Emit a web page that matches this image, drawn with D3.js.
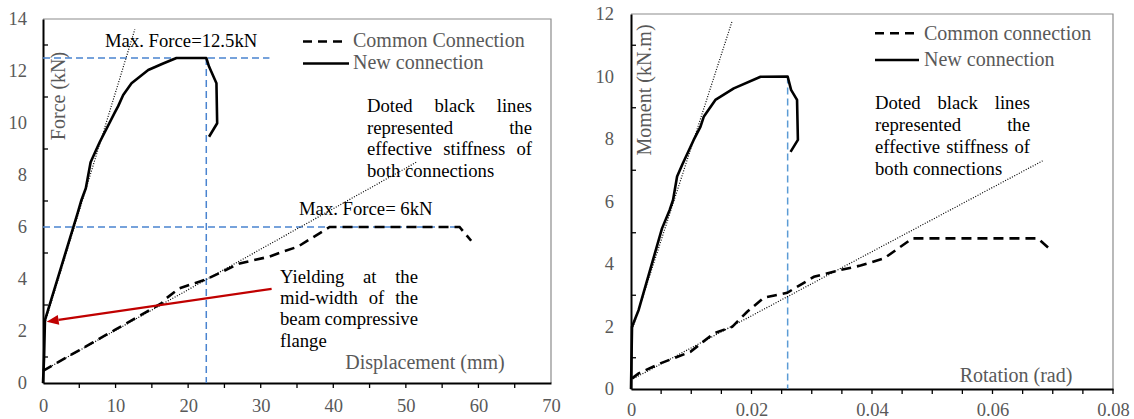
<!DOCTYPE html>
<html>
<head>
<meta charset="utf-8">
<script src="https://cdn.jsdelivr.net/npm/d3@7"></script>
<style>
  html, body { margin: 0; padding: 0; background: #fff; }
  svg { display: block; }
  text { font-family: "Liberation Serif", "Times New Roman", serif; }
</style>
</head>
<body>
<svg id="chart" width="1134" height="419"></svg>
<script>
// ---- Force vs displacement ----
const dispTicks = [0, 10, 20, 30, 40, 50, 60, 70];
const forceTicks = [0, 2, 4, 6, 8, 10, 12, 14];

const dispNew  = [0, 0.15, 0.27, 4.77, 5.3, 5.9, 6.56, 7.38, 7.84, 9.9, 10.36, 11.05, 12.2, 14.5, 16.55, 18.39, 22.5, 22.88, 23.9, 24.0, 22.88];
const forceNew = [0, 1.0, 2.42, 6.53, 7.04, 7.49, 8.49, 9.0, 9.28, 10.41, 10.65, 11.08, 11.53, 12.04, 12.29, 12.5, 12.5, 12.17, 11.53, 9.99, 9.47];

const dispCommon  = [0, 9.9, 14.26, 16.3, 17.0, 18.8, 22.5, 27.1, 31.2, 33.05, 35.1, 39.5, 57.4, 59.0];
const forceCommon = [0.47, 2.04, 2.74, 3.06, 3.26, 3.64, 3.99, 4.6, 4.86, 5.05, 5.24, 6.0, 6.0, 5.47];

// effective stiffness lines (start/end)
const dispStiffNew = [0.25, 12.65];
const forceStiffNew = [2.3, 13.6];
const dispStiffCommon = [0, 51.5];
const forceStiffCommon = [0.47, 8.5];

const maxForceNew = 12.5, maxDispNew = 22.5, maxForceLineEnd = 31.2;
const maxForceCommon = 6, maxForceCommonEnd = 57.4;

// ---- Moment vs rotation ----
const rotTicks = [0, 0.02, 0.04, 0.06, 0.08];
const momentTicks = [0, 2, 4, 6, 8, 10, 12];

const rotNew    = [0, 0.00017, 0.00127, 0.00515, 0.00642, 0.00698, 0.00765, 0.00848, 0.0104, 0.01152, 0.01207, 0.014, 0.01706, 0.0215, 0.026, 0.02657, 0.02756, 0.0277, 0.02648];
const momentNew = [0, 1.99, 2.53, 5.14, 5.73, 6.05, 6.8, 7.17, 7.97, 8.39, 8.71, 9.25, 9.62, 9.99, 10, 9.57, 9.25, 7.97, 7.59];

const rotCommon    = [0.00017, 0.00127, 0.00487, 0.00986, 0.01373, 0.01679, 0.01928, 0.02205, 0.02593, 0.03036, 0.0348, 0.0381, 0.042, 0.04672, 0.0675, 0.0694];
const momentCommon = [0.34, 0.5, 0.82, 1.19, 1.78, 1.99, 2.47, 2.92, 3.08, 3.59, 3.81, 3.95, 4.18, 4.82, 4.82, 4.5];

const rotStiffNew = [0.0002, 0.0168];
const momentStiffNew = [1.9, 11.78];
const rotStiffCommon = [0, 0.0683];
const momentStiffCommon = [0.29, 7.3];

const maxMomentNew = 10, maxRotNew = 0.026;

const noteLines = ["Doted black lines", "represented the", "effective stiffness of", "both connections"];
const yieldLines = ["Yielding at the", "mid-width of the", "beam compressive", "flange"];

const svg = d3.select("#chart");
const GRAY = "#595959";

function zip(xs, ys) { return xs.map((x, i) => [x, ys[i]]); }

// Text spread across a fixed width, last line left-aligned
function justified(g, lines, x0, width, y0, lineH, size) {
  lines.forEach((line, li) => {
    const words = line.split(" ");
    const y = y0 + li * lineH;
    if (li === lines.length - 1 || words.length === 1) {
      g.append("text").attr("font-size", size).attr("fill", "#000")
        .attr("x", x0).attr("y", y).text(line);
      return;
    }
    const widths = words.map(w => {
      const tmp = g.append("text").attr("font-size", size).text(w);
      const wd = tmp.node().getComputedTextLength();
      tmp.remove();
      return wd;
    });
    const gap = (width - d3.sum(widths)) / (words.length - 1);
    let cx = x0;
    words.forEach((w, i) => {
      g.append("text").attr("font-size", size).attr("fill", "#000")
        .attr("x", cx).attr("y", y).text(w);
      cx += widths[i] + gap;
    });
  });
}

function drawPanel(cfg) {
  const { x, y } = cfg;
  const g = svg.append("g");
  const [x0, x1] = x.range();
  const [yb, yt] = y.range();

  // plot border (top/right)
  g.append("path")
    .attr("d", `M${x0},${yt}H${x1}V${yb}`)
    .attr("fill", "none").attr("stroke", "#8c8c8c").attr("stroke-width", 1.2);

  // tick marks: every step on x (outside), odd steps on y (inside)
  g.selectAll(".xm").data(cfg.xMinor).join("line")
    .attr("x1", d => x(d)).attr("x2", d => x(d))
    .attr("y1", yb).attr("y2", yb + 5)
    .attr("stroke", "#000").attr("stroke-width", 1.3);
  g.selectAll(".ym").data(cfg.yMinor).join("line")
    .attr("x1", x0).attr("x2", x0 + 5)
    .attr("y1", d => y(d)).attr("y2", d => y(d))
    .attr("stroke", "#000").attr("stroke-width", 1.3);

  // axes
  const xa = g.append("g").attr("transform", `translate(0,${yb})`)
    .call(d3.axisBottom(x).tickValues(cfg.xTicks).tickSize(0).tickPadding(cfg.xPad).tickFormat(cfg.xFormat));
  xa.select(".domain").attr("stroke", "#000").attr("stroke-width", 2);
  xa.selectAll("text").attr("font-size", 18.5).attr("fill", GRAY)
    .attr("font-family", '"Liberation Serif", "Times New Roman", serif');

  const ya = g.append("g").attr("transform", `translate(${x0},0)`)
    .call(d3.axisLeft(y).tickValues(cfg.yTicks).tickSize(0).tickPadding(cfg.yPad));
  ya.select(".domain").attr("stroke", "#000").attr("stroke-width", 2);
  ya.selectAll("text").attr("font-size", 18.5).attr("fill", GRAY)
    .attr("font-family", '"Liberation Serif", "Times New Roman", serif');

  // axis titles
  g.append("text")
    .attr("transform", `translate(${cfg.yTitlePos[0]},${cfg.yTitlePos[1]}) rotate(-90)`)
    .attr("text-anchor", "middle").attr("font-size", 20).attr("fill", GRAY)
    .text(cfg.yTitle);
  g.append("text")
    .attr("x", cfg.xTitlePos[0]).attr("y", cfg.xTitlePos[1])
    .attr("text-anchor", "middle").attr("font-size", 20).attr("fill", GRAY)
    .text(cfg.xTitle);

  return g;
}

const line = (x, y) => d3.line().x(d => x(d[0])).y(d => y(d[1]));

// ================= Left panel =================
{
  const x = d3.scaleLinear().domain([0, 70]).range([43, 551]);
  const y = d3.scaleLinear().domain([0, 14]).range([383, 19]);
  const g = drawPanel({
    x, y,
    xTicks: dispTicks, yTicks: forceTicks,
    xMinor: d3.range(5, 70, 5), yMinor: d3.range(1, 14, 2),
    xFormat: d3.format("d"), xPad: 16, yPad: 16,
    yTitle: "Force (kN)", yTitlePos: [65, 96],
    xTitle: "Displacement (mm)", xTitlePos: [425, 369]
  });
  const L = line(x, y);

  // max-force guides
  const blue = "#4a84d0";
  g.append("path").attr("d", L([[0, maxForceNew], [maxForceLineEnd, maxForceNew]]))
    .attr("stroke", blue).attr("stroke-width", 1.5).attr("stroke-dasharray", "7,4").attr("fill", "none");
  g.append("path").attr("d", L([[maxDispNew, maxForceNew], [maxDispNew, 0]]))
    .attr("stroke", blue).attr("stroke-width", 1.5).attr("stroke-dasharray", "7,4").attr("fill", "none");
  g.append("path").attr("d", L([[0, maxForceCommon], [maxForceCommonEnd, maxForceCommon]]))
    .attr("stroke", blue).attr("stroke-width", 1.5).attr("stroke-dasharray", "7,4").attr("fill", "none");

  // effective stiffness
  [[dispStiffNew, forceStiffNew], [dispStiffCommon, forceStiffCommon]].forEach(([a, b]) => {
    g.append("path").attr("d", L(zip(a, b)))
      .attr("stroke", "#000").attr("stroke-width", 1.2).attr("stroke-dasharray", "1,1.6").attr("fill", "none");
  });

  // series
  g.append("path").attr("d", L(zip(dispCommon, forceCommon)))
    .attr("stroke", "#000").attr("stroke-width", 2.6).attr("stroke-dasharray", "10,6").attr("fill", "none");
  g.append("path").attr("d", L(zip(dispNew, forceNew)))
    .attr("stroke", "#000").attr("stroke-width", 2.6).attr("stroke-linejoin", "round").attr("fill", "none");

  // red arrow
  const ax0 = x(31.5), ay0 = y(3.62), ax1 = x(0.5), ay1 = y(2.36);
  const ang = Math.atan2(ay1 - ay0, ax1 - ax0);
  const hl = 12, hw = 5;
  const bx = ax1 - hl * Math.cos(ang), by = ay1 - hl * Math.sin(ang);
  g.append("line").attr("x1", ax0).attr("y1", ay0).attr("x2", bx).attr("y2", by)
    .attr("stroke", "#c00000").attr("stroke-width", 2.2);
  g.append("path")
    .attr("d", `M${ax1},${ay1}L${bx + hw * Math.sin(ang)},${by - hw * Math.cos(ang)}L${bx - hw * Math.sin(ang)},${by + hw * Math.cos(ang)}Z`)
    .attr("fill", "#c00000");

  // labels
  g.append("text").attr("x", 105).attr("y", 47).attr("font-size", 18.7).attr("fill", "#000").text("Max. Force=12.5kN");
  g.append("text").attr("x", 299).attr("y", 215).attr("font-size", 18.7).attr("fill", "#000").text("Max. Force= 6kN");
  justified(g, noteLines, 367, 165, 112, 21.5, 18.7);
  justified(g, yieldLines, 280, 138, 283, 21.2, 18.7);

  // legend
  g.append("line").attr("x1", 303).attr("x2", 348).attr("y1", 41.5).attr("y2", 41.5)
    .attr("stroke", "#000").attr("stroke-width", 2.6).attr("stroke-dasharray", "9,6");
  g.append("line").attr("x1", 303).attr("x2", 349).attr("y1", 63.5).attr("y2", 63.5)
    .attr("stroke", "#000").attr("stroke-width", 2.6);
  g.append("text").attr("x", 353).attr("y", 47).attr("font-size", 20).attr("fill", GRAY).text("Common Connection");
  g.append("text").attr("x", 353).attr("y", 69).attr("font-size", 20).attr("fill", GRAY).text("New connection");
}

// ================= Right panel =================
{
  const x = d3.scaleLinear().domain([0, 0.08]).range([631, 1113]);
  const y = d3.scaleLinear().domain([0, 12]).range([389, 14]);
  const g = drawPanel({
    x, y,
    xTicks: rotTicks, yTicks: momentTicks,
    xMinor: d3.range(1, 17).map(i => i * 0.005), yMinor: d3.range(1, 12, 2),
    xFormat: d => d === 0 ? "0" : d3.format(".2f")(d), xPad: 14, yPad: 17,
    yTitle: "Moment (kN.m)", yTitlePos: [651, 90],
    xTitle: "Rotation (rad)", xTitlePos: [1016, 382]
  });
  const L = line(x, y);

  g.append("path").attr("d", L([[maxRotNew, maxMomentNew], [maxRotNew, 0]]))
    .attr("stroke", "#5b9bd5").attr("stroke-width", 1.5).attr("stroke-dasharray", "7,4").attr("fill", "none");

  [[rotStiffNew, momentStiffNew], [rotStiffCommon, momentStiffCommon]].forEach(([a, b]) => {
    g.append("path").attr("d", L(zip(a, b)))
      .attr("stroke", "#000").attr("stroke-width", 1.2).attr("stroke-dasharray", "1,1.6").attr("fill", "none");
  });

  g.append("path").attr("d", L(zip(rotCommon, momentCommon)))
    .attr("stroke", "#000").attr("stroke-width", 2.6).attr("stroke-dasharray", "10,6").attr("fill", "none");
  g.append("path").attr("d", L(zip(rotNew, momentNew)))
    .attr("stroke", "#000").attr("stroke-width", 2.6).attr("stroke-linejoin", "round").attr("fill", "none");

  justified(g, noteLines, 875, 155, 108.5, 22, 18.7);

  g.append("line").attr("x1", 875).attr("x2", 918).attr("y1", 33.3).attr("y2", 33.3)
    .attr("stroke", "#000").attr("stroke-width", 2.6).attr("stroke-dasharray", "9,6");
  g.append("line").attr("x1", 875).attr("x2", 919).attr("y1", 60).attr("y2", 60)
    .attr("stroke", "#000").attr("stroke-width", 2.6);
  g.append("text").attr("x", 924).attr("y", 40).attr("font-size", 20).attr("fill", GRAY).text("Common connection");
  g.append("text").attr("x", 924).attr("y", 66).attr("font-size", 20).attr("fill", GRAY).text("New connection");
}
</script>
</body>
</html>
